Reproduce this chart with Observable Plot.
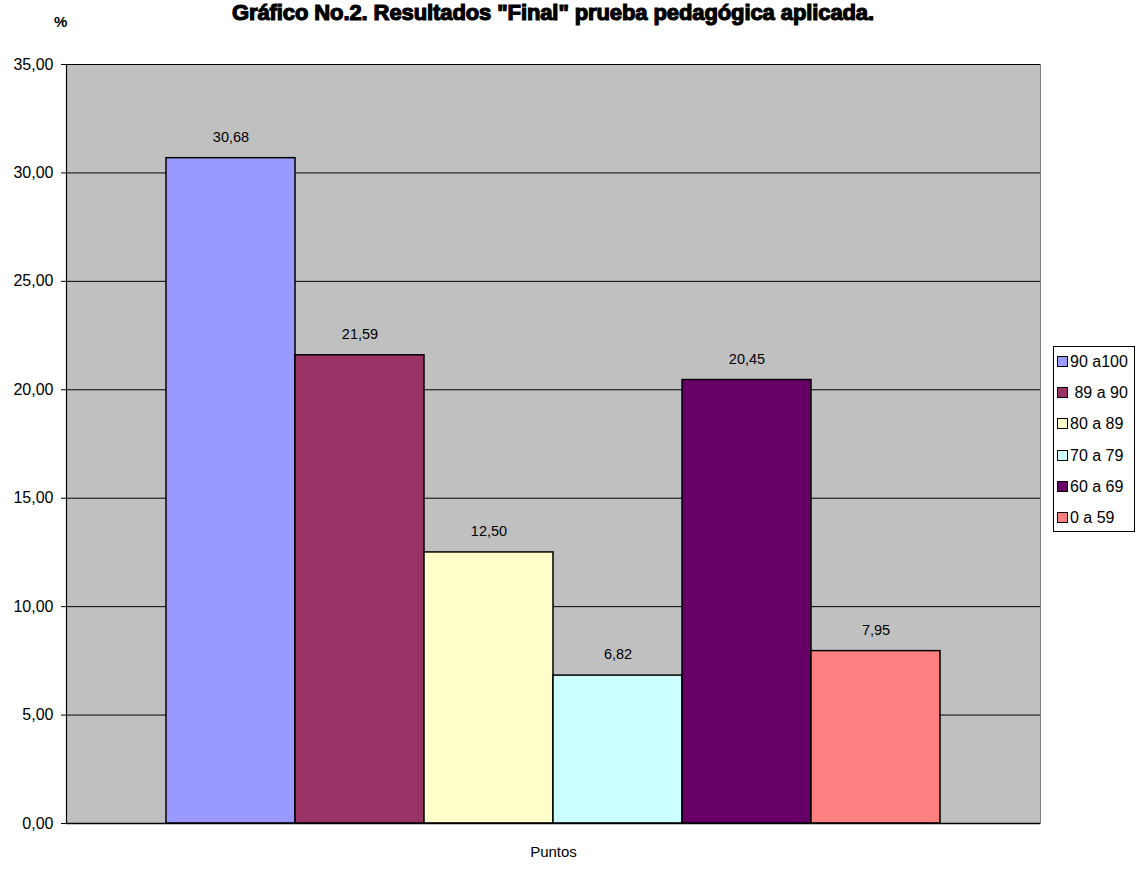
<!DOCTYPE html>
<html>
<head>
<meta charset="utf-8">
<script src="https://cdn.jsdelivr.net/npm/d3@7"></script>
<script src="https://cdn.jsdelivr.net/npm/@observablehq/plot@0.6"></script>
<style>
  html, body { margin: 0; padding: 0; background: #fff; }
  #wrap { position: relative; width: 1137px; height: 869px; overflow: hidden; font-family: "Liberation Sans", Arial, sans-serif; }
  #title { position: absolute; top: 0px; left: 0; width: 1106px; text-align: center; font-size: 22px; line-height: 25px; font-weight: bold; color: #000; white-space: nowrap; -webkit-text-stroke: 1.2px #000; letter-spacing: -0.1px; }
  #pct { position: absolute; left: 54px; top: 14px; font-size: 15px; font-weight: bold; line-height: 16px; }
  #legend { position: absolute; left: 1053px; top: 346px; width: 82px; height: 186px; border: 1px solid #000; background: #fff; box-sizing: border-box; }
  .item { position: absolute; left: 3px; height: 20px; font-size: 16px; line-height: 20px; white-space: pre; }
  .sw { display: inline-block; width: 9px; height: 9px; border: 1px solid #000; margin-right: 2px; vertical-align: 0px; }
  #chart { position: absolute; left: 0; top: 0; }
</style>
</head>
<body>
<div id="wrap">
  <div id="chart"></div>
  <div id="title">Gráfico No.2. Resultados "Final" prueba pedagógica aplicada.</div>
  <div id="pct">%</div>
  <div id="legend"></div>
</div>
<script>
const categories = ["90 a100", " 89 a 90", "80 a 89", "70 a 79", "60 a 69", "0 a 59"];
const values = [30.68, 21.59, 12.50, 6.82, 20.45, 7.95];
const colors = ["#9999FF", "#993366", "#FFFFCC", "#CCFFFF", "#660066", "#FF8080"];
const yTicks = [0, 5, 10, 15, 20, 25, 30, 35];
const xLabel = "Puntos";

const data = categories.map((c, i) => ({cat: c, val: values[i]}));
const fmt = v => v.toFixed(2).replace(".", ",");

const chart = Plot.plot({
  width: 1137,
  height: 869,
  marginTop: 64,
  marginBottom: 46,
  marginLeft: 66,
  marginRight: 97,
  style: { fontFamily: "Liberation Sans, Arial, sans-serif", background: "transparent" },
  x: { domain: categories, paddingInner: 0, paddingOuter: 0.77, axis: null },
  y: { domain: [0, 35], ticks: yTicks, tickFormat: fmt, tickSize: 5, tickPadding: 8, label: null },
  color: { domain: categories, range: colors },
  marks: [
    Plot.frame({ fill: "#C0C0C0", stroke: "#808080" }),
    Plot.ruleY(yTicks.filter(t => t > 0), { stroke: "#000", strokeWidth: 1 }),
    Plot.axisY({ ticks: yTicks, tickFormat: fmt, tickSize: 5, tickPadding: 8, fontSize: 16, label: null, stroke: "#000" }),
    Plot.barY(data, { x: "cat", y: "val", fill: "cat", stroke: "#000", strokeWidth: 1.5 }),
    Plot.text(data, { x: "cat", y: "val", text: d => fmt(d.val), dy: -21, fontSize: 14.5, fill: "#000" }),
    Plot.frame({ anchor: "left", stroke: "#000", strokeWidth: 1.2 }),
    Plot.ruleY([0], { stroke: "#000", strokeWidth: 1.5 }),
    Plot.text([xLabel], { frameAnchor: "bottom", dy: 33, fontSize: 15, fill: "#000" })
  ]
});
document.getElementById("chart").appendChild(chart);

const legend = document.getElementById("legend");
categories.forEach((c, i) => {
  const d = document.createElement("div");
  d.className = "item";
  d.style.top = (5 + i * 31.2) + "px";
  const sw = document.createElement("span");
  sw.className = "sw";
  sw.style.background = colors[i];
  d.appendChild(sw);
  d.appendChild(document.createTextNode(c));
  legend.appendChild(d);
});
</script>
</body>
</html>
